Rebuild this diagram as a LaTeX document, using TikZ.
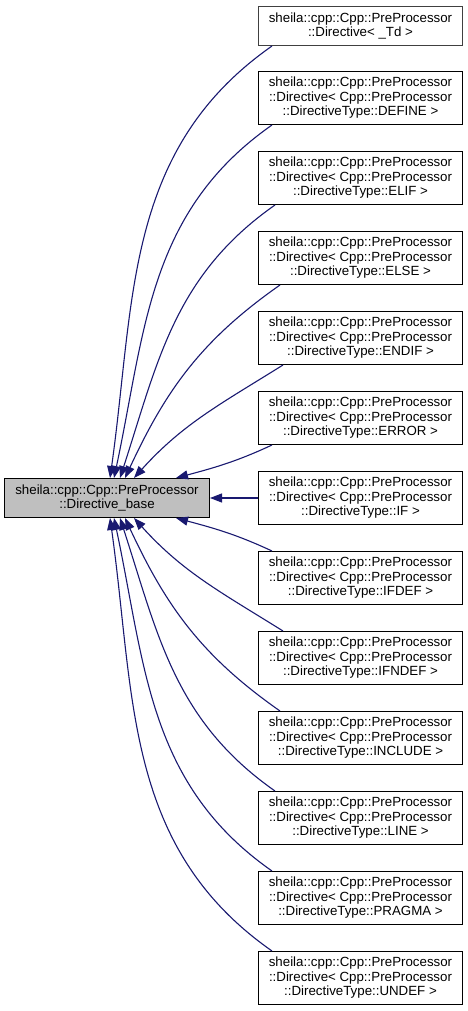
\documentclass[tikz,border=0pt]{standalone}
\usepackage{fontspec}
\setmainfont{Liberation Sans}
\usetikzlibrary{arrows.meta,positioning}
\definecolor{edgeblue}{HTML}{191970}
\definecolor{basegray}{HTML}{BFBFBF}
\tikzset{
  classbox/.style={draw=black, fill=white, align=center, minimum width=204pt, minimum height=53pt, inner sep=2pt, line width=1pt, font=\fontsize{13.3}{14.5}\selectfont},
  inherit/.style={-{Triangle[length=12pt, width=9pt]}, line width=1.1pt, draw=edgeblue},
}

\begin{document}
\begin{tikzpicture}[x=1pt, y=1pt, node distance=26pt]
    \useasboundingbox (0,0) rectangle (468,-1011);
    \node[classbox, fill=basegray, minimum width=205pt, minimum height=39pt] (base) at (107,-498) {sheila::cpp::Cpp::PreProcessor\\::Directive\_base};
    \node[classbox, draw=black!75, minimum height=39pt] (dtd) at (360.5,-26) {sheila::cpp::Cpp::PreProcessor\\::Directive< \_Td >};
    \node[classbox, below=25pt of dtd] (ddefine) {sheila::cpp::Cpp::PreProcessor\\::Directive< Cpp::PreProcessor\\::DirectiveType::DEFINE >};
    \node[classbox, below=of ddefine] (delif) {sheila::cpp::Cpp::PreProcessor\\::Directive< Cpp::PreProcessor\\::DirectiveType::ELIF >};
    \node[classbox, below=of delif] (delse) {sheila::cpp::Cpp::PreProcessor\\::Directive< Cpp::PreProcessor\\::DirectiveType::ELSE >};
    \node[classbox, below=of delse] (dendif) {sheila::cpp::Cpp::PreProcessor\\::Directive< Cpp::PreProcessor\\::DirectiveType::ENDIF >};
    \node[classbox, below=of dendif] (derror) {sheila::cpp::Cpp::PreProcessor\\::Directive< Cpp::PreProcessor\\::DirectiveType::ERROR >};
    \node[classbox, below=of derror] (dif) {sheila::cpp::Cpp::PreProcessor\\::Directive< Cpp::PreProcessor\\::DirectiveType::IF >};
    \node[classbox, below=of dif] (difdef) {sheila::cpp::Cpp::PreProcessor\\::Directive< Cpp::PreProcessor\\::DirectiveType::IFDEF >};
    \node[classbox, below=of difdef] (difndef) {sheila::cpp::Cpp::PreProcessor\\::Directive< Cpp::PreProcessor\\::DirectiveType::IFNDEF >};
    \node[classbox, below=of difndef] (dinclude) {sheila::cpp::Cpp::PreProcessor\\::Directive< Cpp::PreProcessor\\::DirectiveType::INCLUDE >};
    \node[classbox, below=of dinclude] (dline) {sheila::cpp::Cpp::PreProcessor\\::Directive< Cpp::PreProcessor\\::DirectiveType::LINE >};
    \node[classbox, below=of dline] (dpragma) {sheila::cpp::Cpp::PreProcessor\\::Directive< Cpp::PreProcessor\\::DirectiveType::PRAGMA >};
    \node[classbox, below=of dpragma] (dundef) {sheila::cpp::Cpp::PreProcessor\\::Directive< Cpp::PreProcessor\\::DirectiveType::UNDEF >};
    % edges above the IF box
    \draw[inherit] ([xshift=14pt]dtd.south west) to[out=215, in=82] ([xshift=3pt]base.north);
    \draw[inherit] ([xshift=14pt]ddefine.south west) to[out=215, in=78] ([xshift=7pt]base.north);
    \draw[inherit] ([xshift=17pt]delif.south west) to[out=215, in=72] ([xshift=13pt]base.north);
    \draw[inherit] ([xshift=22pt]delse.south west) to[out=215, in=65] ([xshift=18pt]base.north);
    \draw[inherit] ([xshift=25pt]dendif.south west) to[out=212, in=48] ([xshift=27pt]base.north);
    \draw[inherit] ([xshift=14pt]derror.south west) to[out=205, in=15] ([xshift=69pt]base.north);
    \draw[inherit] (dif) -- (base);
    % edges below the IF box
    \draw[inherit] ([xshift=14pt]difdef.north west) to[out=155, in=-15] ([xshift=69pt]base.south);
    \draw[inherit] ([xshift=25pt]difndef.north west) to[out=148, in=-48] ([xshift=27pt]base.south);
    \draw[inherit] ([xshift=22pt]dinclude.north west) to[out=145, in=-65] ([xshift=18pt]base.south);
    \draw[inherit] ([xshift=17pt]dline.north west) to[out=145, in=-72] ([xshift=13pt]base.south);
    \draw[inherit] ([xshift=14pt]dpragma.north west) to[out=145, in=-78] ([xshift=7pt]base.south);
    \draw[inherit] ([xshift=14pt]dundef.north west) to[out=145, in=-82] ([xshift=3pt]base.south);
\end{tikzpicture}
\end{document}
